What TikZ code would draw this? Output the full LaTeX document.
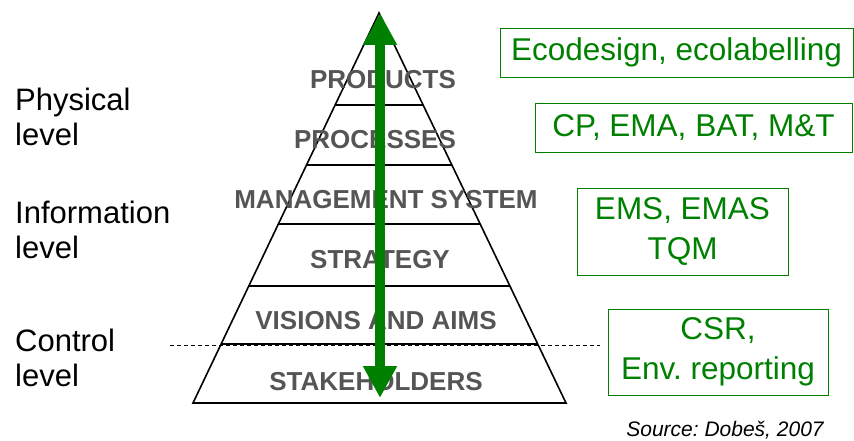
\documentclass[tikz,border=0pt]{standalone}
\usepackage{fontspec}
\setmainfont{Liberation Sans}
\usetikzlibrary{arrows.meta, positioning}
\definecolor{levelgreen}{HTML}{008000}
\definecolor{layergray}{HTML}{555555}
\frenchspacing

\tikzset{
  layer/.style={text=layergray, inner sep=0pt, font=\fontsize{26}{30}\selectfont\bfseries},
  levelname/.style={anchor=west, align=left, inner sep=0pt, font=\fontsize{31}{35}\selectfont},
  toolbox/.style={draw=levelgreen, line width=0.9pt, text=levelgreen, align=center, inner sep=0pt, font=\fontsize{31.5}{40}\selectfont},
}

\begin{document}
\begin{tikzpicture}[x=1pt, y=-1pt]
  \useasboundingbox (0,0) rectangle (854,441);
  % Divider of control level
  \coordinate (dashL) at (170,345);
  \coordinate (dashR) at (600,345);
  \draw[dash pattern=on 4pt off 3pt, line width=0.7pt] (dashL) -- (dashR);
  % Pyramid
  \coordinate (apex) at (379,13);
  \coordinate (baseL) at (193,403);
  \coordinate (baseR) at (566,403);
  \draw[line width=1.6pt] (baseL) -- (apex) -- (baseR) -- cycle;
  \foreach \y in {105,165,224,286,344}
    \draw[line width=1.6pt] (intersection of apex--baseL and 0,\y--10,\y) -- (intersection of apex--baseR and 0,\y--10,\y);
  % Layers
  \node[layer] (products) at (383,80) {PRODUCTS};
  \node[layer] (processes) at (375,140) {PROCESSES};
  \node[layer] (mgmt) at (386,200) {MANAGEMENT SYSTEM};
  \node[layer] (strategy) at (380,260) {STRATEGY};
  \node[layer] (visions) at (376,321) {VISIONS AND AIMS};
  \node[layer] (stake) at (376,382) {STAKEHOLDERS};
  % Double arrow
  \coordinate (arrTop) at (380,13);
  \coordinate (arrBot) at (380,398);
  \draw[levelgreen, line width=10pt, {Triangle[width=32pt,length=32pt]}-{Triangle[width=32pt,length=32pt]}] (arrTop) -- (arrBot);
  % Levels
  \node[levelname] (physical) at (15,117) {Physical\\level};
  \node[levelname] (information) at (15,230) {Information\\level};
  \node[levelname] (control) at (15,358) {Control\\level};
  % Tools
  \node[toolbox, minimum width=353pt, minimum height=49pt] (eco) at (676.5,52.5) {Ecodesign, ecolabelling};
  \node[toolbox, minimum width=317pt, minimum height=49pt] (cp) at (693.5,127.5) {CP, EMA, BAT, M\&T};
  \node[toolbox, minimum width=211pt, minimum height=87pt] (ems) at (682.5,231.5) {EMS, EMAS\\TQM};
  \node[toolbox, minimum width=220pt, minimum height=86pt] (csr) at (718,352) {CSR,\\Env. reporting};
  % Source
  \node[inner sep=0pt, font=\fontsize{21}{24}\selectfont\itshape] (source) at (725,430) {Source: Dobeš, 2007};
\end{tikzpicture}
\end{document}
